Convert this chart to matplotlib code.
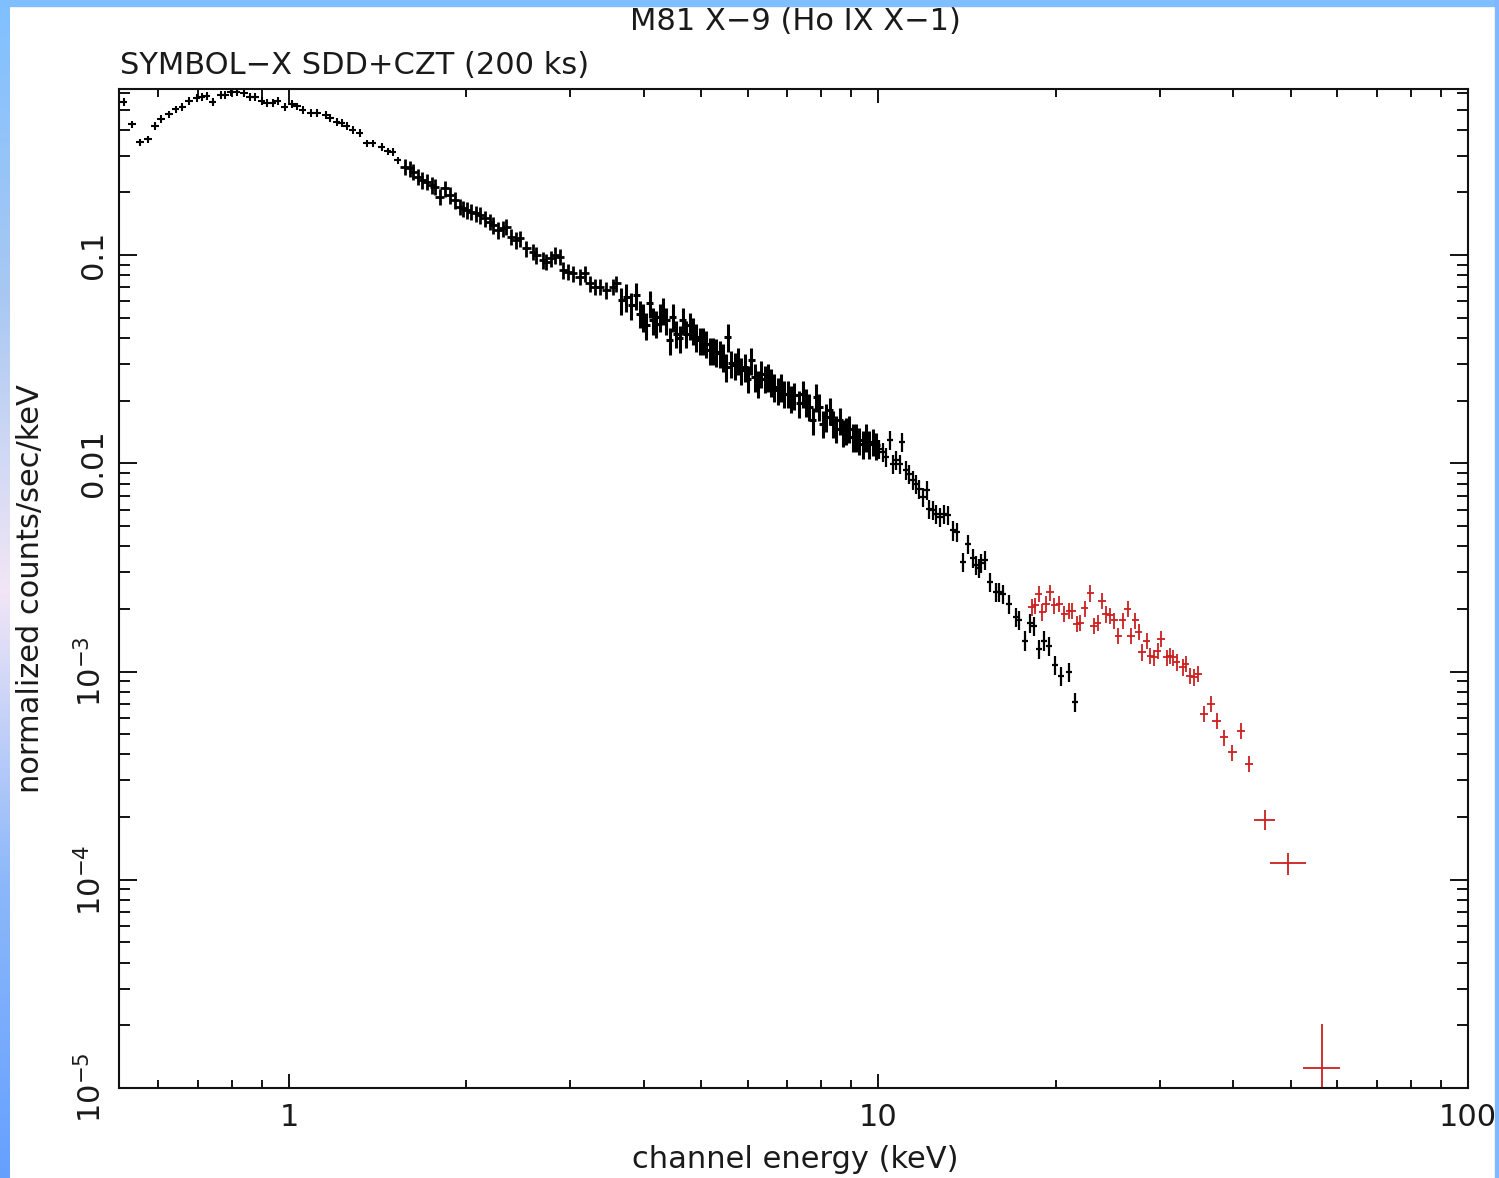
import numpy as np
import matplotlib.pyplot as plt
from matplotlib.colors import LinearSegmentedColormap
from matplotlib.patches import Rectangle
from matplotlib.ticker import LogLocator, NullFormatter

plt.rcParams['font.family'] = ['DejaVu Sans']
plt.rcParams['mathtext.fontset'] = 'dejavusans'

sdd_lo_e = [0.525, 0.542, 0.559, 0.577, 0.593, 0.607, 0.626, 0.643, 0.659, 0.677, 0.698,
            0.712, 0.726, 0.743, 0.767, 0.779, 0.797, 0.816, 0.839, 0.859, 0.876, 0.900,
            0.918, 0.939, 0.958, 0.984, 1.012, 1.032, 1.056, 1.090, 1.116, 1.155, 1.174,
            1.206, 1.230, 1.254, 1.284, 1.319, 1.356, 1.388, 1.437, 1.472, 1.501, 1.530]
sdd_lo_f = [0.544, 0.426, 0.349, 0.361, 0.417, 0.451, 0.476, 0.503, 0.515, 0.550, 0.569,
            0.575, 0.581, 0.544, 0.588, 0.588, 0.608, 0.608, 0.601, 0.575, 0.575, 0.550,
            0.538, 0.538, 0.550, 0.515, 0.532, 0.520, 0.498, 0.482, 0.482, 0.471, 0.456,
            0.436, 0.431, 0.417, 0.399, 0.386, 0.345, 0.345, 0.331, 0.316, 0.313, 0.286]

sdd_mid_e = [1.573, 1.604, 1.624, 1.657, 1.679, 1.712, 1.746, 1.768, 1.803, 1.838, 1.875,
             1.912, 1.949, 1.974, 2.001, 2.040, 2.080, 2.107, 2.149, 2.191, 2.220, 2.263,
             2.308, 2.339, 2.385, 2.431, 2.463, 2.528, 2.595, 2.630, 2.698, 2.734, 2.788,
             2.824, 2.880, 2.917, 2.974, 3.033, 3.113, 3.175, 3.237, 3.301, 3.366, 3.455,
             3.546, 3.593]
sdd_mid_f = [0.266, 0.261, 0.2515, 0.238, 0.229, 0.225, 0.217, 0.213, 0.1906, 0.209, 0.194,
             0.184, 0.1707, 0.1677, 0.1645, 0.1615, 0.1586, 0.1557, 0.150, 0.1446, 0.1394,
             0.1319, 0.1344, 0.1368, 0.1225, 0.118, 0.1203, 0.1077, 0.1037, 0.100, 0.0946,
             0.0929, 0.0964, 0.100, 0.0981, 0.0847, 0.0831, 0.0817, 0.0786, 0.0817, 0.0731,
             0.0704, 0.0704, 0.0679, 0.0704, 0.0731]

sdd_hi_e = [3.664, 3.735, 3.808, 3.884, 3.934, 3.986, 4.039, 4.092, 4.145, 4.200, 4.255,
            4.309, 4.367, 4.424, 4.481, 4.541, 4.599, 4.659, 4.721, 4.782, 4.845, 4.909,
            4.973, 5.037, 5.105, 5.171, 5.239, 5.308, 5.377, 5.447, 5.520, 5.554, 5.627,
            5.700, 5.774, 5.852, 5.928, 6.004, 6.084, 6.163, 6.243, 6.327, 6.409, 6.492,
            6.578, 6.663, 6.750, 6.840, 6.928, 7.018, 7.112, 7.204, 7.346, 7.442, 7.541,
            7.638, 7.738, 7.842, 7.943, 8.046, 8.154, 8.261, 8.368, 8.478, 8.590, 8.701,
            8.818, 8.929, 9.045, 9.167, 9.286, 9.406, 9.532, 9.654, 9.779, 9.911]
sdd_hi_f = [0.0608, 0.063, 0.0575, 0.0642, 0.0524, 0.0505, 0.0461, 0.0586, 0.0487, 0.0469,
            0.0505, 0.0544, 0.0487, 0.039, 0.0505, 0.0420, 0.0398, 0.0487, 0.0420, 0.0461,
            0.0436, 0.0405, 0.039, 0.039, 0.0376, 0.0349, 0.0349, 0.0343, 0.0337, 0.0324,
            0.0290, 0.0405, 0.0302, 0.0296, 0.0313, 0.0280, 0.0290, 0.0255, 0.0313, 0.0260,
            0.0242, 0.0270, 0.0255, 0.0260, 0.0246, 0.0233, 0.0224, 0.0233, 0.0216, 0.0216,
            0.0205, 0.0212, 0.0194, 0.0216, 0.0197, 0.0187, 0.0161, 0.0208, 0.0187, 0.0155,
            0.0167, 0.0180, 0.0155, 0.0147, 0.0161, 0.0141, 0.0144, 0.0147, 0.0134, 0.0134,
            0.0129, 0.0124, 0.0134, 0.0124, 0.0127, 0.0122]

sdd_tail_e = [10.04, 10.17, 10.30, 10.47, 10.57, 10.71, 10.88, 10.97, 11.14, 11.28, 11.43,
              11.58, 11.73, 11.88, 12.09, 12.20, 12.36, 12.52, 12.74, 12.94, 13.11, 13.36,
              13.59, 13.93, 14.20, 14.45, 14.64, 14.79, 14.93, 15.17, 15.47, 15.83, 16.04,
              16.25, 16.67, 17.12, 17.34, 17.70, 18.10, 18.34, 18.70, 19.11, 19.44, 19.95,
              20.40, 21.07, 21.57]
sdd_tail_f = [0.01177, 0.01133, 0.01072, 0.01291, 0.00997, 0.01034, 0.00997, 0.01266,
              0.00925, 0.00892, 0.00829, 0.00799, 0.00756, 0.00689, 0.00741, 0.00606,
              0.00594, 0.00573, 0.00552, 0.00573, 0.00562, 0.00476, 0.00468, 0.00335,
              0.0041, 0.0035, 0.00324, 0.00313, 0.00331, 0.00342, 0.00269, 0.0024, 0.0024,
              0.00237, 0.00212, 0.00182, 0.00176, 0.00141, 0.00172, 0.00166, 0.00129,
              0.00141, 0.00133, 0.00107, 0.000957, 0.000993, 0.000712]

# typical fractional errors (x half-width, y) of each SDD band
sdd_lo_err = (0.014, 0.04)
sdd_mid_err = (0.017, 0.09)
sdd_hi_err = (0.014, 0.15)
sdd_tail_err = (0.012, 0.105)

# CZT spectrum (red)
czt_e = [18.22, 18.46, 18.70, 18.95, 19.24, 19.54, 19.87, 20.27, 20.67, 21.07, 21.32,
         21.72, 22.00, 22.40, 22.88, 23.17, 23.53, 23.94, 24.32, 24.73, 25.12, 25.51,
         25.95, 26.46, 26.81, 27.27, 27.62, 27.99, 28.49, 28.91, 29.37, 29.75, 30.15,
         30.81, 31.22, 31.62, 32.03, 32.79, 33.23, 33.75, 34.32, 34.90, 35.68, 36.64,
         37.45, 38.59, 39.86, 41.19, 42.56, 45.23, 49.59, 56.62]
czt_f = [2.04e-3, 2.08e-3, 2.37e-3, 1.93e-3, 2.12e-3, 2.40e-3, 2.08e-3, 2.12e-3, 1.90e-3,
         1.96e-3, 1.96e-3, 1.70e-3, 1.72e-3, 2.01e-3, 2.38e-3, 1.66e-3, 1.72e-3, 2.19e-3,
         1.89e-3, 1.86e-3, 1.76e-3, 1.49e-3, 1.76e-3, 2.00e-3, 1.49e-3, 1.76e-3, 1.55e-3,
         1.24e-3, 1.41e-3, 1.19e-3, 1.17e-3, 1.26e-3, 1.44e-3, 1.17e-3, 1.19e-3, 1.17e-3,
         1.11e-3, 1.05e-3, 1.09e-3, 9.57e-4, 9.39e-4, 9.75e-4, 6.26e-4, 7.00e-4, 5.81e-4,
         4.83e-4, 4.09e-4, 5.20e-4, 3.60e-4, 1.94e-4, 1.20e-4, 1.25e-5]
czt_xerr = [0.014] * 42 + [0.016] * 7 + [0.042, 0.069, 0.073]
czt_err_dn = [0.09] * 49 + [0.11, 0.12, 0.95]
czt_err_up = [0.09] * 49 + [0.11, 0.12, 0.62]

fig = plt.figure(figsize=(14.99, 11.78), dpi=100)

# blue slide frame
frame_cmap = LinearSegmentedColormap.from_list(
    'frame', ['#66a0ff', '#8cb8fa', '#f2e6f6', '#a8c8f2', '#80c0ff'])
strip = fig.add_axes([0, 0, 10 / 1499, 1])
strip.imshow(np.linspace(0, 1, 256).reshape(-1, 1), aspect='auto', cmap=frame_cmap,
             origin='lower', extent=[0, 1, 0, 1])
strip.axis('off')
fig.patches.append(Rectangle((0, 1 - 6 / 1178), 1, 6 / 1178, transform=fig.transFigure,
                             color='#80bfff', zorder=5))
fig.patches.append(Rectangle((1495 / 1499, 0), 4 / 1499, 1, transform=fig.transFigure,
                             color='#80b8ff', zorder=5))

ax = fig.add_axes([119 / 1499, 90 / 1178, 1349 / 1499, 999 / 1178])
ax.set_xscale('log')
ax.set_yscale('log')

bands = [(sdd_lo_e, sdd_lo_f, sdd_lo_err, 1.5), (sdd_mid_e, sdd_mid_f, sdd_mid_err, 2.0),
         (sdd_hi_e, sdd_hi_f, sdd_hi_err, 2.2), (sdd_tail_e, sdd_tail_f, sdd_tail_err, 1.6)]
for e, f, (xe, ye), lw in bands:
    e = np.array(e)
    f = np.array(f)
    ax.errorbar(e, f, xerr=e * xe, yerr=f * ye, fmt='none', ecolor='black',
                elinewidth=lw, capsize=0)

czt_e = np.array(czt_e)
czt_f = np.array(czt_f)
ax.errorbar(czt_e, czt_f, xerr=czt_e * np.array(czt_xerr),
            yerr=[czt_f * np.array(czt_err_dn), czt_f * np.array(czt_err_up)],
            fmt='none', ecolor='#cc2020', elinewidth=1.3, capsize=0)

ax.set_xlim(0.515, 100)
ax.set_ylim(1e-5, 0.628)

text_kw = dict(color='#1a1a1a', fontsize=22)
ax.set_xticks([1, 10, 100], ['1', '10', '100'], **text_kw)
ax.set_yticks([1e-5, 1e-4, 1e-3, 1e-2, 1e-1],
              ['$10^{-5}$', '$10^{-4}$', '$10^{-3}$', '0.01', '0.1'],
              rotation=90, va='center', **text_kw)
ax.xaxis.set_minor_locator(LogLocator(base=10, subs=np.arange(2, 10)))
ax.yaxis.set_minor_locator(LogLocator(base=10, subs=np.arange(2, 10)))
ax.xaxis.set_minor_formatter(NullFormatter())
ax.yaxis.set_minor_formatter(NullFormatter())
ax.tick_params(which='both', direction='in', top=True, right=True, width=1.4, color='#111111')
ax.tick_params(axis='x', which='major', length=10, pad=11)
ax.tick_params(axis='x', which='minor', length=6)
ax.tick_params(axis='y', which='major', length=13, pad=8)
ax.tick_params(axis='y', which='minor', length=8)
for sp in ax.spines.values():
    sp.set_linewidth(1.5)
    sp.set_color('#111111')

fig.text(795 / 1499, 1 - 22 / 1178, 'M81 X\u22129 (Ho IX X\u22121)', ha='center', va='center', **text_kw)
fig.text(120 / 1499, 1 - 65 / 1178, 'SYMBOL\u2212X SDD+CZT (200 ks)', ha='left', va='center', **text_kw)
fig.text(795 / 1499, 1 - 1160 / 1178, 'channel energy (keV)', ha='center', va='center', **text_kw)
fig.text(31 / 1499, 1 - 589 / 1178, 'normalized counts/sec/keV', ha='center', va='center',
         rotation=90, **text_kw)

fig.savefig('out.png', dpi=100)
